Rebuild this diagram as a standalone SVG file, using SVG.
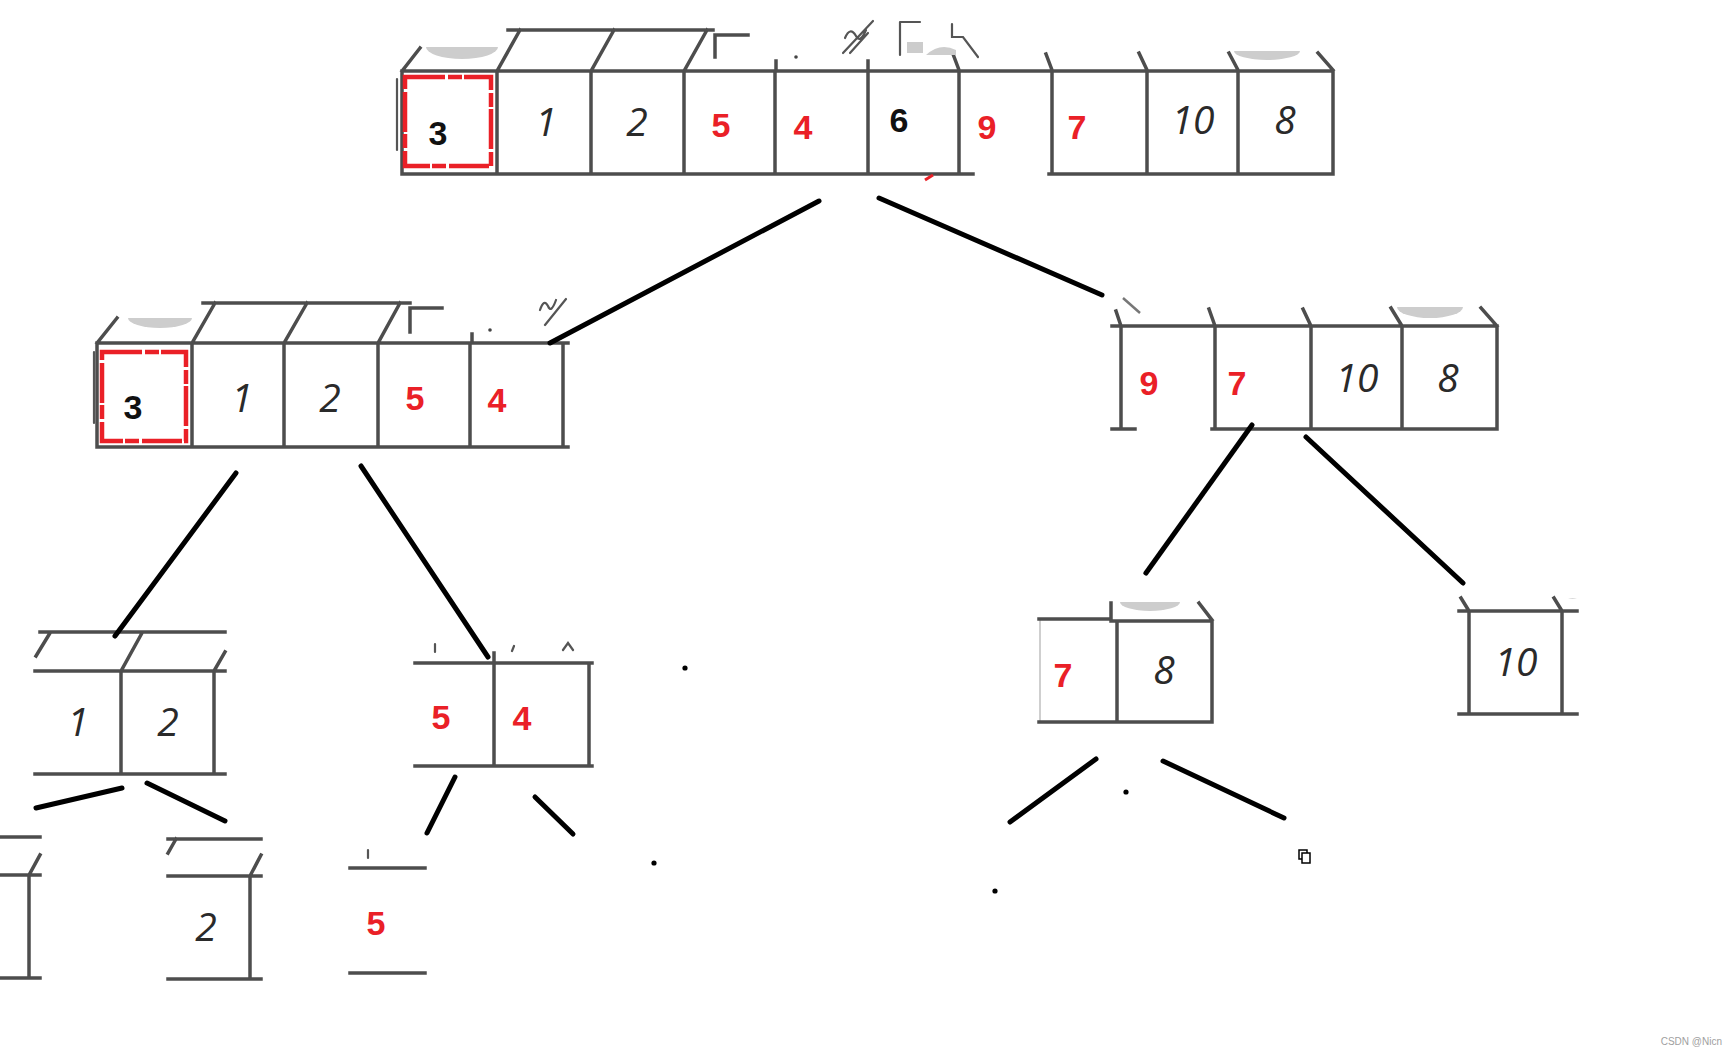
<svg xmlns="http://www.w3.org/2000/svg" width="1736" height="1055" viewBox="0 0 1736 1055">
<style>
.bx{stroke:#4d4d4d;stroke-width:3.5;fill:none;stroke-linecap:square}
.fn{stroke:#cfcfcf;stroke-width:2;fill:none}
.sc{stroke:#555;stroke-width:2.2;fill:none;stroke-linecap:round}
.blob{fill:#cdcdcd}
.edge{stroke:#000;stroke-width:5;stroke-linecap:round;fill:none}
.red{fill:#ea2027;font-family:"Liberation Sans",Arial,sans-serif;font-weight:bold;font-size:34px;text-anchor:middle}
.blk{fill:#111;font-family:"Liberation Sans",Arial,sans-serif;font-weight:bold;font-size:34px;text-anchor:middle}
.hand{fill:#2a2a2a;font-family:"Open Sans","DejaVu Sans",sans-serif;font-style:italic;font-weight:400;font-size:39px;text-anchor:middle}
.sel{fill:none;stroke:#ea2027;stroke-width:4.5;stroke-dasharray:40 3 14 2}
.dot{fill:#000}
</style>
<rect width="1736" height="1055" fill="#fff"/>

<g id="node-root">
  <path class="blob" d="M426,47 A36,12 0 0 0 498,47 Z"/>
  <path class="blob" d="M1234,51 A33,9 0 0 0 1300,51 Z"/>
  <path class="bx" d="M402,71 H1333 M402,174 H973 M1049,174 H1333
    M402,71 V174 M497,71 V174 M591,71 V174 M684,71 V174 M775,71 V174 M868,71 V174 M959,71 V174 M1052,71 V174 M1147,71 V174 M1238,71 V174 M1333,71 V174
    M508,30 H713 M402,71 L420,48 M497,71 L520,30 M591,71 L614,30 M684,71 L707,30
    M715,57 V35 H748 M776,61 V71 M868,61 V71
    M953,54 L959,70 M1046,54 L1052,70 M1139,53 L1147,70 M1229,53 L1238,70 M1318,53 L1333,70"/>
  <path class="sc" d="M397,79 V150"/>
  <path class="sc" d="M843,53 L873,21 M850,53 L868,33 M845,38 Q850,26 856,36 Q860,44 866,30 M900,22 V55 M900,22 H920 M952,24 V37 H963 L978,57"/>
  <rect x="907" y="42" width="16" height="11" fill="#ccc"/>
  <path class="blob" d="M926,55 Q940,42 956,50 L956,55 Z"/>
  <circle cx="796" cy="57" r="1.8" fill="#444"/>
  <path d="M925,180 L933,175" stroke="#ea2027" stroke-width="3"/>
  <rect class="sel" x="405" y="77" width="86" height="89"/>
  <text class="blk" x="438" y="145">3</text>
  <text class="hand" x="546" y="136">1</text>
  <text class="hand" x="637" y="136">2</text>
  <text class="red" x="721" y="137">5</text>
  <text class="red" x="803" y="139">4</text>
  <text class="blk" x="899" y="132">6</text>
  <text class="red" x="987" y="139">9</text>
  <text class="red" x="1077" y="139">7</text>
  <text class="hand" x="1193" y="134">10</text>
  <text class="hand" x="1285" y="134">8</text>
</g>

<g id="node-left">
  <path class="blob" d="M128,318 A32,10 0 0 0 192,318 Z"/>
  <path class="bx" d="M97,343 H568 M97,447 H568
    M97,343 V447 M192,343 V447 M284,343 V447 M378,343 V447 M470,343 V447 M563,343 V447
    M203,303 H410 M97,343 L117,318 M192,343 L215,303 M284,343 L307,303 M378,343 L400,303
    M410,332 V308 H442 M472,334 V343"/>
  <path class="sc" d="M94,352 V423 M540,310 Q544,298 548,306 Q551,314 556,300 M545,325 L566,299"/>
  <circle cx="490" cy="330" r="1.8" fill="#444"/>
  <rect class="sel" x="102" y="352" width="84" height="89"/>
  <text class="blk" x="133" y="419">3</text>
  <text class="hand" x="242" y="412">1</text>
  <text class="hand" x="330" y="412">2</text>
  <text class="red" x="415" y="410">5</text>
  <text class="red" x="497" y="412">4</text>
</g>

<g id="node-right">
  <path class="blob" d="M1397,307 A33,11 0 0 0 1463,307 Z"/>
  <path class="bx" d="M1112,326 H1497 M1112,429 H1135 M1212,429 H1497
    M1121,326 V429 M1215,326 V429 M1311,326 V429 M1402,326 V429 M1497,326 V429
    M1116,311 L1121,326 M1209,309 L1215,326 M1303,309 L1311,326 M1391,308 L1402,326 M1481,308 L1497,326"/>
  <path d="M1123,298 L1140,313" stroke="#777" stroke-width="2.5"/>
  <text class="red" x="1149" y="395">9</text>
  <text class="red" x="1237" y="395">7</text>
  <text class="hand" x="1357" y="392">10</text>
  <text class="hand" x="1448" y="392">8</text>
</g>

<g id="node-12">
  <path class="bx" d="M40,632 H225 M35,671 H225 M35,774 H225 M121,671 V774 M214,671 V774
    M36,656 L50,633 M121,671 L142,633 M214,671 L225,652"/>
  <text class="hand" x="78" y="736">1</text>
  <text class="hand" x="168" y="736">2</text>
</g>

<g id="node-54">
  <path class="bx" d="M415,663 H592 M415,766 H592 M494,653 V766 M589,663 V766"/>
  <path class="sc" d="M435,644 V652 M514,646 L512,651 M563,650 L568,643 L573,650" stroke="#999"/>
  <text class="red" x="441" y="729">5</text>
  <text class="red" x="522" y="730">4</text>
</g>

<g id="node-78">
  <path class="blob" d="M1120,602 A30,9 0 0 0 1180,602 Z"/>
  <path class="fn" d="M1040,619 V722"/>
  <path class="bx" d="M1039,619 H1111 M1039,722 H1212 M1111,621 H1212 M1117,621 V722 M1212,621 V722 M1111,603 V620 M1199,603 L1212,620"/>
  <text class="red" x="1063" y="687">7</text>
  <text class="hand" x="1164" y="684">8</text>
</g>

<g id="node-10">
  <path class="blob" d="M1568,598 A9,5 0 0 0 1577,598 Z"/>
  <path class="bx" d="M1459,611 H1577 M1459,714 H1577 M1469,611 V714 M1562,611 V714 M1461,598 L1469,611 M1554,598 L1562,611"/>
  <text class="hand" x="1516" y="676">10</text>
</g>

<g id="node-leaf1">
  <path class="bx" d="M0,837 H40 M0,875 H40 M0,978 H40 M29,875 V978 M29,875 L40,855"/>
</g>

<g id="node-leaf2">
  <path class="bx" d="M168,839 H261 M168,876 H261 M168,979 H261 M250,876 V979 M168,853 L176,839 M250,876 L261,855"/>
  <text class="hand" x="206" y="941">2</text>
</g>

<g id="node-leaf5">
  <path class="bx" d="M350,868 H425 M350,973 H425"/>
  <path class="sc" d="M368,850 V858" stroke="#aaa"/>
  <text class="red" x="376" y="935">5</text>
</g>

<g id="connectors">
  <path class="edge" d="M819,201 L550,343"/>
  <path class="edge" d="M879,198 L1102,295"/>
  <path class="edge" d="M236,473 L115,636"/>
  <path class="edge" d="M361,466 L488,657"/>
  <path class="edge" d="M1252,425 L1146,573"/>
  <path class="edge" d="M1306,437 L1463,583"/>
  <path class="edge" d="M122,788 L36,808"/>
  <path class="edge" d="M147,783 L225,821"/>
  <path class="edge" d="M455,777 L427,833"/>
  <path class="edge" d="M535,797 L573,834"/>
  <path class="edge" d="M1096,759 L1010,822"/>
  <path class="edge" d="M1163,761 L1284,818"/>
</g>

<g id="marks">
  <circle class="dot" cx="685" cy="668" r="2.6"/>
  <circle class="dot" cx="654" cy="863" r="2.6"/>
  <circle class="dot" cx="995" cy="891" r="2.6"/>
  <circle class="dot" cx="1126" cy="792" r="2.6"/>
  <rect x="1299" y="850" width="8" height="9" fill="#fff" stroke="#000" stroke-width="1.5"/>
  <rect x="1302" y="853" width="8" height="10" fill="#fff" stroke="#000" stroke-width="1.5"/>
  <text x="1722" y="1045" font-family="'Liberation Sans',Arial,sans-serif" font-size="10" fill="#a0a0a0" text-anchor="end">CSDN @Nicn</text>
</g>
</svg>
